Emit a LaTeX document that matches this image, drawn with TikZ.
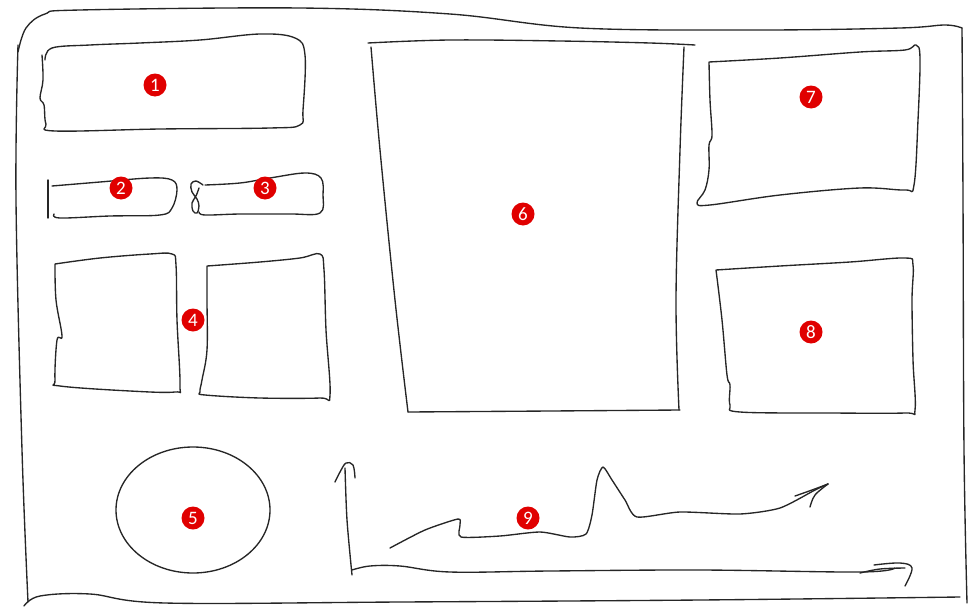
\documentclass[tikz,border=0pt]{standalone}
\usepackage{fontspec}
\setmainfont{Carlito}
\begin{document}
\begin{tikzpicture}[x=1pt,y=-1pt,
  sketch/.style={draw=black!85, line width=1.35pt, line cap=round, line join=round},
  badge/.style={circle, fill=red!88!black, text=white, inner sep=0pt, minimum size=23pt, font=\fontsize{19}{19}\selectfont}]
\useasboundingbox (0,0) rectangle (968,610);
% outer frame
\draw[sketch] plot[smooth, tension=0.6] coordinates {(18,52) (26,28) (45,14) (80,10) (300,8) (450,14) (580,28) (760,30) (900,28) (945,25) (962,28)};
\draw[sketch] plot[smooth, tension=0.6] coordinates {(962,28) (963,200) (964,450) (967,603)};
\draw[sketch] plot[smooth, tension=0.6] coordinates {(18,45) (16,200) (22,450) (28,602)};
\draw[sketch] plot[smooth, tension=0.6] coordinates {(24,606) (40,596) (90,594) (165,603) (400,602) (700,600) (960,597)};
% box 1
\draw[sketch] plot[smooth, tension=0.6] coordinates {(45,60) (52,48) (90,45) (140,43) (200,40) (260,34) (295,38) (305,55) (303,110) (300,125) (270,128) (160,129) (55,131) (46,124) (44,105) (40,98) (43,80) (42,55)};
% box 2
\draw[sketch] (48,180) -- (48,218);
\draw[sketch] plot[smooth, tension=0.6] coordinates {(52,186) (100,182) (150,178) (172,180) (177,190) (172,208) (160,215) (110,216) (60,218) (54,214)};
% box 3
\draw[sketch] plot[smooth, tension=0.6] coordinates {(203,185) (196,181) (191,184) (192,192) (197,199) (199,206) (197,213) (193,211) (192,203) (196,196) (199,188)};
\draw[sketch] plot[smooth, tension=0.6] coordinates {(199,212) (205,215) (240,214) (290,214) (320,213) (323,195) (321,178) (305,173) (270,178) (240,183) (205,185)};
% box 4 left
\draw[sketch] plot[smooth, tension=0.6] coordinates {(55,264) (100,258) (150,254) (172,254) (176,265) (177,320) (180,385) (175,392) (130,391) (60,386) (55,380) (57,340) (62,336) (56,300) (55,264)};
% box 4 right
\draw[sketch] plot[smooth, tension=0.6] coordinates {(207,266) (260,262) (300,258) (320,254) (324,270) (326,330) (330,395) (320,398) (260,398) (205,395) (200,392) (202,380) (207,350) (207,300) (207,266)};
% ellipse 5
\draw[sketch] (193,510) ellipse (77 and 63);
% box 6
\draw[sketch] plot[smooth, tension=0.6] coordinates {(368,43) (450,40) (560,41) (650,43) (695,45)};
\draw[sketch] plot[smooth, tension=0.6] coordinates {(371,47) (380,150) (395,300) (408,412)};
\draw[sketch] plot[smooth, tension=0.6] coordinates {(408,412) (550,411) (680,410)};
\draw[sketch] plot[smooth, tension=0.6] coordinates {(684,47) (680,150) (676,300) (679,410)};
% box 7
\draw[sketch] plot[smooth, tension=0.6] coordinates {(709,62) (780,58) (860,52) (905,50) (916,45) (920,58) (918,120) (914,185) (905,190) (860,188) (780,195) (710,205) (697,203) (705,190) (709,170) (709,145) (712,135) (710,100) (709,62)};
% box 8
\draw[sketch] plot[smooth, tension=0.6] coordinates {(716,270) (780,266) (850,262) (905,258) (913,265) (912,300) (913,360) (915,410) (905,413) (830,413) (740,412) (730,405) (730,385) (727,375) (722,320) (716,270)};
% chart 9
\draw[sketch] plot[smooth, tension=0.6] coordinates {(335,482) (340,472) (346,463) (353,465) (355,478)};
\draw[sketch] plot[smooth, tension=0.5] coordinates {(345,468) (347,520) (352,575)};
\draw[sketch] plot[smooth, tension=0.6] coordinates {(352,570) (370,566) (400,566) (450,572) (550,571) (700,570) (860,572) (895,568)};
\draw[sketch] plot[smooth, tension=0.6] coordinates {(874,565) (900,563) (912,568) (905,586)};
\draw[sketch] plot[smooth, tension=0.6] coordinates {(860,573) (880,569) (905,568)};
\draw[sketch] plot[smooth, tension=0.4] coordinates {(390,548) (425,530) (458,519) (460,525) (461,537) (500,536) (540,532) (570,537) (586,534) (592,515) (597,480) (603,467) (612,480) (625,500) (637,517) (680,512) (740,514) (780,508) (815,490) (828,484)};
\draw[sketch] plot[smooth, tension=0.6] coordinates {(795,496) (812,490) (828,484)};
\draw[sketch] plot[smooth, tension=0.6] coordinates {(828,484) (815,495) (810,507)};
% badges
\node[badge] (b1) at (155,85) {1};
\node[badge] (b2) at (121,188) {2};
\node[badge] (b3) at (265,188) {3};
\node[badge] (b4) at (193,320) {4};
\node[badge] (b5) at (193,518) {5};
\node[badge] (b6) at (523,214) {6};
\node[badge] (b7) at (811,97) {7};
\node[badge] (b8) at (811,332) {8};
\node[badge] (b9) at (528,518) {9};
\end{tikzpicture}
\end{document}
